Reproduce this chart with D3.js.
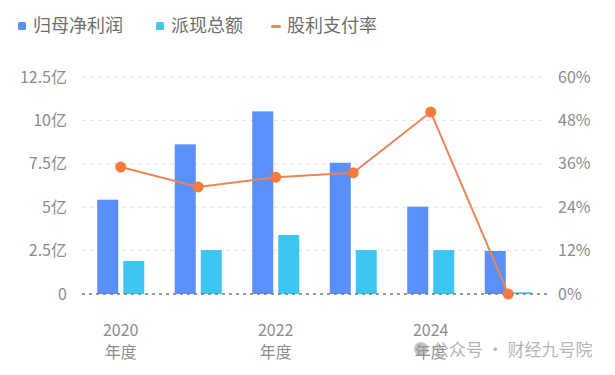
<!DOCTYPE html>
<html>
<head>
<meta charset="utf-8">
<script src="https://cdn.jsdelivr.net/npm/d3@7"></script>
<style>
  body { margin: 0; background: #fff; }
  svg { display: block; font-family: "Noto Sans CJK SC", "Noto Sans", sans-serif; }
</style>
</head>
<body>
<div class="container"></div>
<script>
// data
var years = ["2020年度", "2021年度", "2022年度", "2023年度", "2024年度", "2025年度"];
var netProfit = [5.43, 8.62, 10.52, 7.56, 5.03, 2.48];   // 亿
var dividend = [1.9, 2.53, 3.4, 2.53, 2.53, 0.1];        // 亿
var payoutRatio = [35.1, 29.6, 32.3, 33.5, 50.3, 0];      // %
var leftTicks = [0, 2.5, 5, 7.5, 10, 12.5];
var rightTicks = [0, 12, 24, 36, 48, 60];
var legendNames = ["归母净利润", "派现总额", "股利支付率"];

var width = 615, height = 375;
var margin = {left: 82, right: 68, top: 77, bottom: 81};
var blue = "#5b8ff9", cyan = "#3ec6f2", orange = "#f47a3e", lineColor = "#e8865a";

var svg = d3.select(".container").append("svg")
  .attr("width", width)
  .attr("height", height);

var x = d3.scaleBand().domain(years).range([margin.left, width - margin.right]);
var yL = d3.scaleLinear().domain([0, 12.5]).range([height - margin.bottom, margin.top]);
var yR = d3.scaleLinear().domain([0, 60]).range([height - margin.bottom, margin.top]);

//grid lines
svg.append("g").selectAll("line")
  .data(leftTicks.slice(1))
  .enter().append("line")
  .attr("x1", margin.left).attr("x2", width - margin.right)
  .attr("y1", d => yL(d)).attr("y2", d => yL(d))
  .attr("stroke", "#e3e3e3")
  .attr("stroke-dasharray", "4,4");

// left axis labels
svg.append("g").selectAll("text")
  .data(leftTicks)
  .enter().append("text")
  .attr("x", 67)
  .attr("y", d => yL(d))
  .attr("dy", "0.35em")
  .attr("text-anchor", "end")
  .attr("fill", "#8c8c8c")
  .style("font-size", "16px")
  .text(d => d == 0 ? "0" : d + "亿");

// right axis labels
svg.append("g").selectAll("text")
  .data(rightTicks)
  .enter().append("text")
  .attr("x", 558)
  .attr("y", d => yR(d))
  .attr("dy", "0.35em")
  .attr("text-anchor", "start")
  .attr("fill", "#8c8c8c")
  .style("font-size", "16px")
  .text(d => d + "%");

// bars
var barW = 21, gap = 5;
svg.append("g").selectAll("rect")
  .data(netProfit)
  .enter().append("rect")
  .attr("x", (d, i) => x(years[i]) + x.bandwidth() / 2 - gap / 2 - barW)
  .attr("y", d => yL(d))
  .attr("width", barW)
  .attr("height", d => yL(0) - yL(d))
  .attr("fill", blue);

svg.append("g").selectAll("rect")
  .data(dividend)
  .enter().append("rect")
  .attr("x", (d, i) => x(years[i]) + x.bandwidth() / 2 + gap / 2)
  .attr("y", d => yL(d))
  .attr("width", barW)
  .attr("height", d => yL(0) - yL(d))
  .attr("fill", cyan);

// zero line
svg.append("line")
  .attr("x1", margin.left).attr("x2", width - margin.right)
  .attr("y1", yL(0)).attr("y2", yL(0))
  .attr("stroke", "#777")
  .attr("stroke-width", 1.5)
  .attr("stroke-dasharray", "3,4");

// payout line
var line = d3.line()
  .x((d, i) => x(years[i]) + x.bandwidth() / 2)
  .y(d => yR(d));
svg.append("path")
  .datum(payoutRatio)
  .attr("d", line)
  .attr("fill", "none")
  .attr("stroke", lineColor)
  .attr("stroke-width", 2);

svg.append("g").selectAll("circle")
  .data(payoutRatio)
  .enter().append("circle")
  .attr("cx", (d, i) => x(years[i]) + x.bandwidth() / 2)
  .attr("cy", d => yR(d))
  .attr("r", 5.5)
  .attr("fill", orange);

// x labels, every other category, two lines
var shown = years.filter((d, i) => i % 2 == 0);
svg.append("g").selectAll("text")
  .data(shown)
  .enter().append("text")
  .attr("x", d => x(d) + x.bandwidth() / 2)
  .attr("y", 336)
  .attr("text-anchor", "middle")
  .attr("fill", "#8c8c8c")
  .style("font-size", "16px")
  .text(d => d.slice(0, 4));
svg.append("g").selectAll("text")
  .data(shown)
  .enter().append("text")
  .attr("x", d => x(d) + x.bandwidth() / 2)
  .attr("y", 358)
  .attr("text-anchor", "middle")
  .attr("fill", "#8c8c8c")
  .style("font-size", "16px")
  .text(d => d.slice(4));

// legend
var legendX = [18, 156, 272];
var legendColors = [blue, cyan, lineColor];
var lg = svg.append("g").selectAll("g")
  .data(legendNames)
  .enter().append("g")
  .attr("transform", (d, i) => "translate(" + legendX[i] + ",26)");
lg.filter((d, i) => i < 2).append("rect")
  .attr("x", 0).attr("y", -4).attr("width", 8).attr("height", 8).attr("rx", 1.5)
  .attr("fill", (d, i) => legendColors[i]);
lg.filter((d, i) => i == 2).append("rect")
  .attr("x", -1).attr("y", -1).attr("width", 10).attr("height", 3).attr("rx", 1.5)
  .attr("fill", lineColor);
lg.append("text")
  .attr("x", 15)
  .attr("dy", "0.35em")
  .attr("fill", "#6e6e6e")
  .style("font-size", "18px")
  .text(d => d);

// watermark (sits under the last year label, as in the original)
svg.append("circle").attr("cx", 421).attr("cy", 349).attr("r", 7).attr("fill", "#9a9a9a").attr("opacity", 0.6);
svg.append("text")
  .attr("x", 432).attr("y", 356)
  .attr("fill", "#b5b5b5")
  .style("font-size", "17px")
  .text("公众号 · 财经九号院");
</script>
</body>
</html>
